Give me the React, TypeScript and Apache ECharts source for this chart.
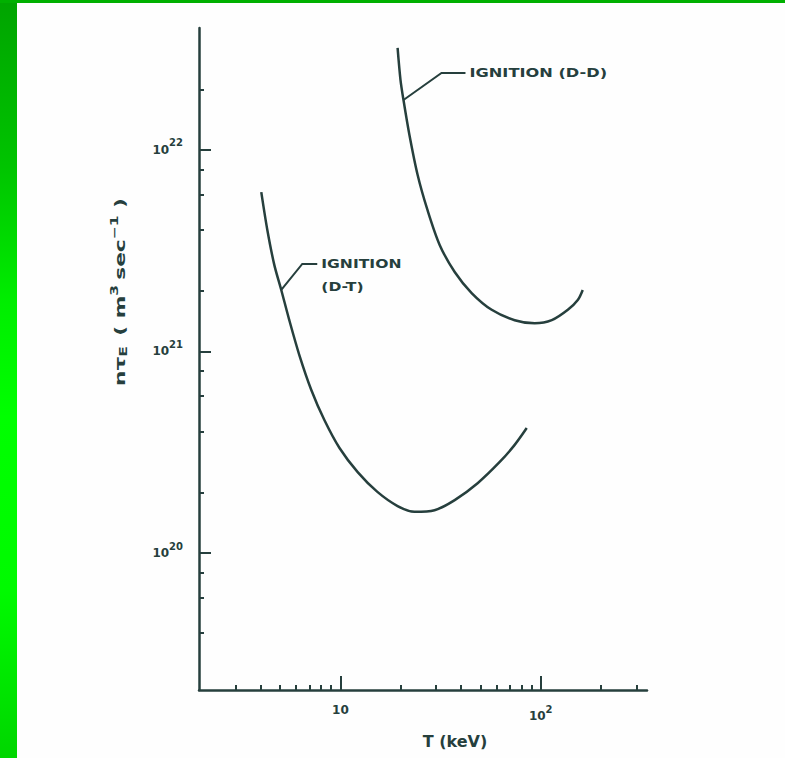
import React, { useEffect, useRef } from "react";
import * as echarts from "echarts";

// D-T ignition curve: temperature (keV) and n·tau_E
const dtT = [4.03, 4.32, 4.68, 5.07, 5.56, 6.24, 7.16, 8.32, 9.9, 12.2, 15.3, 19.3, 23.4, 29.5, 37.2, 48.4, 62.4, 74.1, 85.1];
const dtNTau = [6.18e21, 4.01e21, 2.69e21, 2.02e21, 1.43e21, 9.6e20, 6.44e20, 4.57e20, 3.32e20, 2.52e20, 2.01e20, 1.71e20, 1.6e20, 1.63e20, 1.83e20, 2.22e20, 2.83e20, 3.44e20, 4.17e20];

// D-D ignition curve
const ddT = [19.3, 19.95, 20.65, 22.1, 24.3, 27.2, 31.3, 37.2, 45.2, 56.9, 74.1, 93.3, 113.5, 136.5, 153, 162];
const ddNTau = [3.21e22, 2.23e22, 1.77e22, 1.19e22, 7.51e21, 5.04e21, 3.38e21, 2.48e21, 1.95e21, 1.61e21, 1.43e21, 1.38e21, 1.43e21, 1.61e21, 1.8e21, 2.02e21];

// axis ticks
const xMajor = [10, 100];
const xMinor = [3, 4, 5, 6, 7, 8, 9, 20, 30, 40, 50, 60, 70, 80, 90, 200, 300];
const yMajor = [1e20, 1e21, 1e22];
const yMinor = [4e19, 6e19, 8e19, 2e20, 4e20, 6e20, 8e20, 2e21, 4e21, 6e21, 8e21, 2e22];

const ddLabel = "IGNITION (D-D)";
const dtLabel1 = "IGNITION";
const dtLabel2 = "(D-T)";
const xTitle = "T (keV)";

export default function App() {
  const ref = useRef<HTMLDivElement>(null);

  useEffect(() => {
    const chart = echarts.init(ref.current!, null, { renderer: "svg" });
    const L = Math.log10;
    const ink = "#263f3d";
    const font = "DejaVu Sans";
    const xMin = L(1.97), xMax = L(339);
    const yMin = L(2.09e19), yMax = L(4.03e22);

    const rich = {
      b: { fontSize: 12, fontWeight: "bold", fontFamily: font, color: ink },
      s: { fontSize: 10, fontWeight: "bold", fontFamily: font, color: ink, padding: [0, 0, 14, 0] },
    };

    const minorAxisBase = {
      type: "value",
      axisLine: { show: false },
      splitLine: { show: false },
      axisLabel: { show: false },
    };

    chart.setOption({
      animation: false,
      backgroundColor: "#fefefe",
      grid: { left: 199, right: 138, top: 28, bottom: 68 },
      xAxis: [
        {
          type: "value",
          position: "bottom",
          min: xMin,
          max: xMax,
          axisLine: { show: true, lineStyle: { color: ink, width: 2.5 } },
          splitLine: { show: false },
          axisTick: { show: true, inside: true, length: 14, lineStyle: { color: ink, width: 2 }, customValues: xMajor.map(L) },
          axisLabel: {
            customValues: xMajor.map(L),
            margin: 14,
            formatter: (v: number) => {
              const e = Math.round(v);
              return e === 1 ? "{b|10}" : `{b|10}{s|${e}}`;
            },
            rich,
          },
        },
        {
          ...minorAxisBase,
          position: "bottom",
          min: xMin,
          max: xMax,
          axisTick: { show: true, inside: true, length: 5, lineStyle: { color: ink, width: 2 }, customValues: xMinor.map(L) },
        },
      ],
      yAxis: [
        {
          type: "value",
          position: "left",
          min: yMin,
          max: yMax,
          axisLine: { show: true, lineStyle: { color: ink, width: 2.5 } },
          splitLine: { show: false },
          axisTick: { show: true, inside: true, length: 12, lineStyle: { color: ink, width: 2 }, customValues: yMajor.map(L) },
          axisLabel: {
            inside: false,
            customValues: yMajor.map(L),
            margin: 16,
            formatter: (v: number) => `{b|10}{s|${Math.round(v)}}`,
            rich,
          },
        },
        {
          ...minorAxisBase,
          position: "left",
          min: yMin,
          max: yMax,
          axisTick: { show: true, inside: true, length: 5, lineStyle: { color: ink, width: 2 }, customValues: yMinor.map(L) },
        },
      ],
      series: [
        {
          name: "IGNITION (D-T)",
          type: "line",
          xAxisIndex: 0,
          yAxisIndex: 0,
          smooth: 0.3,
          symbol: "none",
          lineStyle: { color: ink, width: 2.5 },
          data: dtT.map((t, i) => [L(t), L(dtNTau[i])]),
        },
        {
          name: "IGNITION (D-D)",
          type: "line",
          xAxisIndex: 0,
          yAxisIndex: 0,
          smooth: 0.3,
          symbol: "none",
          lineStyle: { color: ink, width: 2.5 },
          data: ddT.map((t, i) => [L(t), L(ddNTau[i])]),
        },
      ],
    });

    const toPx = (t: number, n: number) =>
      chart.convertToPixel({ xAxisIndex: 0, yAxisIndex: 0 }, [L(t), L(n)]) as number[];
    const a1 = toPx(ddT[2], ddNTau[2]);
    const a2 = toPx(dtT[3], dtNTau[3]);

    const labelStyle = (text: string) => ({
      text,
      fontSize: 12,
      fontWeight: "bold",
      fontFamily: font,
      fill: ink,
      align: "left",
      verticalAlign: "middle",
      textAlign: "left",
      textVerticalAlign: "middle",
    });

    chart.setOption({
      graphic: [
        {
          type: "polyline",
          shape: { points: [[a1[0], a1[1]], [a1[0] + 38, a1[1] - 27], [a1[0] + 62, a1[1] - 27]] },
          style: { stroke: ink, lineWidth: 2, fill: "none" },
        },
        { type: "text", x: a1[0] + 66, y: a1[1] - 27, scaleX: 1.35, style: labelStyle(ddLabel) },
        {
          type: "polyline",
          shape: { points: [[a2[0], a2[1]], [a2[0] + 21, a2[1] - 26], [a2[0] + 36, a2[1] - 26]] },
          style: { stroke: ink, lineWidth: 2, fill: "none" },
        },
        { type: "text", x: a2[0] + 40, y: a2[1] - 26, scaleX: 1.3, style: labelStyle(dtLabel1) },
        { type: "text", x: a2[0] + 40, y: a2[1] - 3, scaleX: 1.3, style: labelStyle(dtLabel2) },
        {
          type: "text",
          x: 455,
          y: 741,
          style: {
            text: xTitle,
            fontSize: 16,
            fontWeight: "bold",
            fontFamily: font,
            fill: ink,
            align: "center",
            verticalAlign: "middle",
            textAlign: "center",
            textVerticalAlign: "middle",
          },
        },
        {
          type: "text",
          x: 120,
          y: 292,
          rotation: Math.PI / 2,
          scaleX: 1.55,
          style: {
            text: "{a|nτ}{u|E}  {a|( m}{p|3} {a|sec}{p|−1}{a| )}",
            fill: ink,
            align: "center",
            verticalAlign: "middle",
            textAlign: "center",
            textVerticalAlign: "middle",
            rich: {
              a: { fontSize: 14, fontWeight: "bold", fontFamily: font, fill: ink, color: ink },
              u: { fontSize: 10, fontWeight: "bold", fontFamily: font, fill: ink, color: ink, padding: [8, 0, 0, 0] },
              p: { fontSize: 10, fontWeight: "bold", fontFamily: font, fill: ink, color: ink, padding: [0, 0, 10, 0] },
            },
          },
        },
      ],
    });

    return () => chart.dispose();
  }, []);

  return (
    <div style={{ position: "fixed", left: 0, top: 0, width: 785, height: 758, background: "#fefefe" }}>
      <div ref={ref} style={{ position: "absolute", left: 0, top: 0, width: 785, height: 758 }} />
      <div
        style={{
          position: "absolute",
          left: 0,
          top: 0,
          width: 17,
          height: 758,
          zIndex: 2,
          background:
            "linear-gradient(to bottom, #00a400 0%, #00c400 22%, #00ee00 40%, #00ff00 55%, #00fa00 78%, #00d600 100%)",
        }}
      />
      <div style={{ position: "absolute", left: 0, top: 0, width: 785, height: 3, zIndex: 2, background: "#00b000" }} />
    </div>
  );
}
